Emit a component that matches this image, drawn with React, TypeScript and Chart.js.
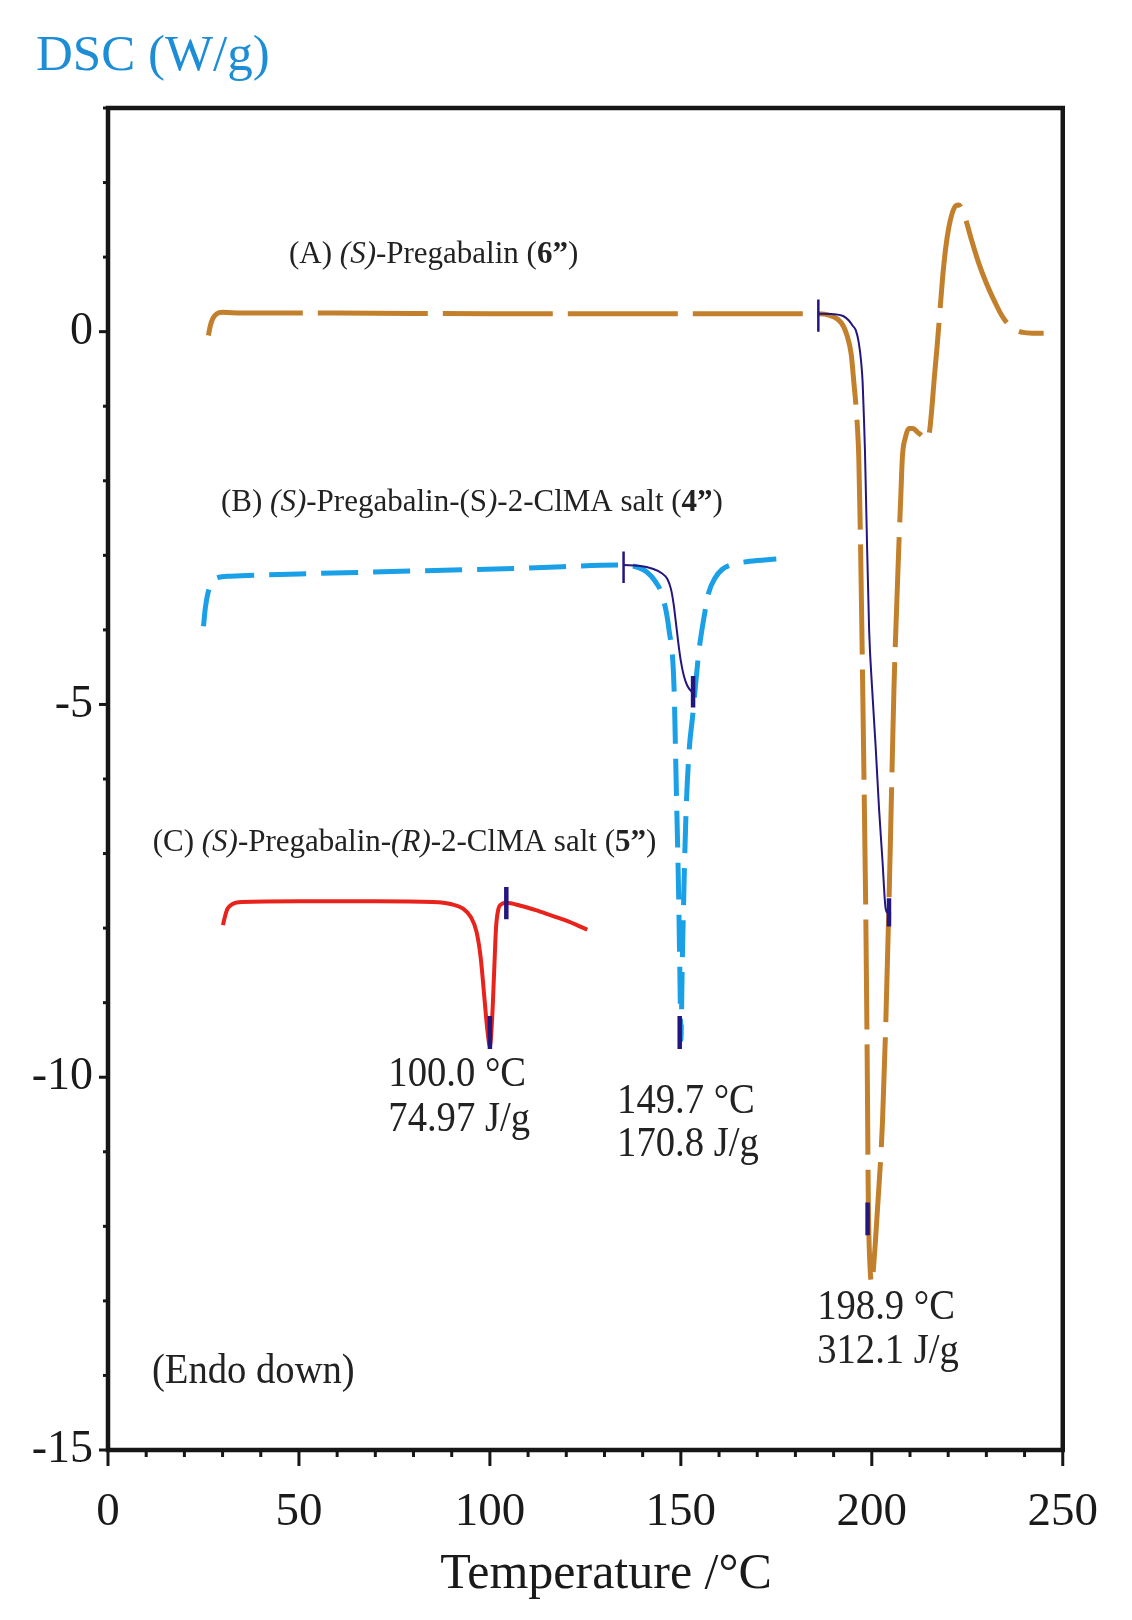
import React, { useEffect, useRef } from 'react';
import { Chart, registerables } from 'chart.js';

Chart.register(...registerables);

// ---------------- data ----------------
// (A) (S)-Pregabalin (6")
const aTemp = [26.3, 26.8, 27.5, 28.5, 30, 35, 60, 100, 150, 180, 186, 189, 191, 192.5, 193.5, 194.6, 195.3, 196, 196.6, 197.0, 197.4, 197.9, 198.4, 198.8, 199.1, 199.5, 200, 200.6, 201.5, 202.8, 203.7, 204.5, 205.2, 205.8, 206.5, 207.1, 207.6, 208, 208.8, 209.7, 210.8, 212, 213.2, 214.2, 215, 215.6, 216.4, 217.1, 217.8, 218.5, 219.3, 220.1, 221, 222, 222.8, 223.6, 224.5, 226, 228, 230, 232.3, 234, 235.7, 237.5, 239.5, 242, 245];
const aDsc = [-0.05, 0.08, 0.18, 0.24, 0.26, 0.25, 0.25, 0.24, 0.24, 0.24, 0.24, 0.22, 0.17, 0.08, -0.05, -0.3, -0.68, -1.1, -1.7, -2.7, -4.0, -5.8, -7.7, -9.8, -11.7, -12.5, -12.76, -12.45, -11.76, -10.6, -9.2, -7.65, -6.1, -4.79, -3.7, -2.85, -2.2, -1.69, -1.42, -1.3, -1.3, -1.35, -1.4, -1.45, -1.38, -1.1, -0.6, -0.2, 0.25, 0.7, 1.1, 1.38, 1.58, 1.69, 1.7, 1.64, 1.52, 1.25, 0.92, 0.65, 0.39, 0.22, 0.1, 0.03, -0.01, -0.02, -0.02];
const aBaseTemp = [186, 190, 192.5, 194, 195, 195.8, 196.6, 197.2, 197.6, 197.9, 198.2, 198.6, 199.3, 200.1, 201, 201.9, 202.8, 203.6, 204.2];
const aBaseDsc = [0.24, 0.235, 0.21, 0.15, 0.08, 0.02, -0.15, -0.4, -0.68, -1.1, -1.58, -2.5, -4.0, -4.8, -5.56, -6.4, -7.1, -7.73, -7.8];

// (B) (S)-Pregabalin-(S)-2-ClMA salt (4")
const bTemp = [25, 25.5, 26.2, 27.3, 28.7, 32, 50, 80, 110, 135, 138, 141, 143.3, 145.2, 146.9, 148.2, 148.8, 149.4, 149.8, 150.0, 150.4, 151.3, 152.2, 153, 154.7, 156, 157.3, 159, 160.8, 163, 168, 175];
const bDsc = [-3.95, -3.7, -3.5, -3.36, -3.3, -3.28, -3.25, -3.21, -3.17, -3.13, -3.15, -3.22, -3.35, -3.55, -4.0, -4.75, -6.1, -7.5, -8.8, -9.5, -8.4, -6.54, -5.6, -5.2, -4.3, -3.85, -3.5, -3.3, -3.19, -3.13, -3.08, -3.05];
const bBaseTemp = [135, 139, 142.6, 145, 146.5, 147.4, 148.1, 148.7, 149.4, 150, 150.8, 151.7, 153];
const bBaseDsc = [-3.13, -3.14, -3.18, -3.24, -3.32, -3.45, -3.65, -3.9, -4.2, -4.42, -4.62, -4.75, -4.84];

// (C) (S)-Pregabalin-(R)-2-ClMA salt (5")
const cTemp = [30.1, 30.6, 31.3, 32.5, 35, 50, 70, 85, 90, 93, 95, 96.5, 97.6, 98.5, 99.3, 100, 100.6, 101.1, 101.6, 102.2, 103, 104.3, 108, 112, 116, 120, 125.5];
const cDsc = [-7.96, -7.85, -7.74, -7.68, -7.65, -7.64, -7.64, -7.65, -7.68, -7.74, -7.85, -8.05, -8.4, -8.9, -9.35, -9.58, -9.2, -8.6, -8.0, -7.75, -7.68, -7.66, -7.7, -7.76, -7.83, -7.9, -8.02];

// analysis markers (onset / peak / end)
const markerTemp = [186, 135, 100.0, 104.3, 149.7, 153.2, 198.9, 204.5];
const markerLow = [0.0, -3.37, -9.62, -7.88, -9.62, -5.04, -12.12, -7.98];
const markerHigh = [0.43, -2.95, -9.18, -7.45, -9.18, -4.62, -11.68, -7.6];

// axis
const xTicksMajor = [0, 50, 100, 150, 200, 250];
const yTicksMajor = [-15, -10, -5, 0];

// texts
const yTitle = 'DSC (W/g)';
const xTitle = 'Temperature /°C';
const labelA: [string, string][] = [['', '(A) '], ['italic', '(S)'], ['', '-Pregabalin ('], ['bold', '6”'], ['', ')']];
const labelB: [string, string][] = [['', '(B) '], ['italic', '(S)'], ['', '-Pregabalin-(S'], ['italic', ')'], ['', '-2-ClMA salt ('], ['bold', '4”'], ['', ')']];
const labelC: [string, string][] = [['', '(C) '], ['italic', '(S)'], ['', '-Pregabalin-'], ['italic', '(R)'], ['', '-2-ClMA salt ('], ['bold', '5”'], ['', ')']];
const peakC = ['100.0 °C', '74.97 J/g'];
const peakB = ['149.7 °C', '170.8 J/g'];
const peakA = ['198.9 °C', '312.1 J/g'];
const endoText = '(Endo down)';

const FONT = '"Liberation Serif", "Times New Roman", Times, serif';
const BROWN = '#c2802c';
const BLUE = '#19a0e6';
const RED = '#e8231c';
const NAVY = '#24167f';

const pts = (xs: number[], ys: number[]) => xs.map((x, i) => ({ x, y: ys[i] }));

function drawRich(ctx: CanvasRenderingContext2D, segs: [string, string][], x: number, y: number, size: number) {
  let cx = x;
  for (const [st, t] of segs) {
    ctx.font = `${st ? st + ' ' : ''}${size}px ${FONT}`;
    ctx.fillText(t, cx, y);
    cx += ctx.measureText(t).width;
  }
}

function drawCondensed(ctx: CanvasRenderingContext2D, t: string, x: number, y: number, size: number, sx: number) {
  ctx.save();
  ctx.translate(x, y);
  ctx.scale(sx, 1);
  ctx.font = `${size}px ${FONT}`;
  ctx.fillText(t, 0, 0);
  ctx.restore();
}

const decorPlugin = {
  id: 'decor',
  afterDraw(chart: any) {
    const { ctx, chartArea: a } = chart;
    const xs = chart.scales.x;
    const ys = chart.scales.y;
    ctx.save();
    ctx.strokeStyle = '#161616';
    ctx.lineCap = 'butt';
    // tick marks
    ctx.lineWidth = 3;
    for (let t = 0; t <= 250; t += 10) {
      const px = xs.getPixelForValue(t);
      const len = xTicksMajor.includes(t) ? 16 : 7;
      ctx.beginPath();
      ctx.moveTo(px, a.bottom);
      ctx.lineTo(px, a.bottom + len);
      ctx.stroke();
    }
    for (let v = -15; v <= 3; v += 1) {
      const py = ys.getPixelForValue(v);
      const len = yTicksMajor.includes(v) ? 9 : 5;
      ctx.beginPath();
      ctx.moveTo(a.left - len, py);
      ctx.lineTo(a.left, py);
      ctx.stroke();
    }
    // frame
    ctx.lineWidth = 4.5;
    ctx.strokeRect(a.left, a.top, a.right - a.left, a.bottom - a.top);

    // titles
    ctx.textBaseline = 'alphabetic';
    ctx.textAlign = 'left';
    ctx.fillStyle = '#1d8dd5';
    ctx.font = `51px ${FONT}`;
    ctx.fillText(yTitle, 36, 70);
    ctx.fillStyle = '#1a1a1a';
    ctx.font = `50px ${FONT}`;
    ctx.textAlign = 'center';
    ctx.fillText(xTitle, 606, 1588);
    ctx.textAlign = 'left';

    const X = (t: number) => xs.getPixelForValue(t);
    const Y = (v: number) => ys.getPixelForValue(v);
    ctx.fillStyle = '#222';
    drawRich(ctx, labelA, X(47.4), Y(0.925), 31);
    drawRich(ctx, labelB, X(29.6), Y(-2.41), 31);
    drawRich(ctx, labelC, X(11.7), Y(-6.97), 31);

    const S = 42, SX = 0.92;
    drawCondensed(ctx, peakC[0], X(73.4), Y(-10.12), S, SX);
    drawCondensed(ctx, peakC[1], X(73.4), Y(-10.72), S, SX);
    drawCondensed(ctx, peakB[0], X(133.3), Y(-10.48), S, SX);
    drawCondensed(ctx, peakB[1], X(133.3), Y(-11.06), S, SX);
    drawCondensed(ctx, peakA[0], X(185.7), Y(-13.24), S, SX);
    drawCondensed(ctx, peakA[1], X(185.7), Y(-13.83), S, SX);
    drawCondensed(ctx, endoText, X(11.5), Y(-14.1), S, SX);
    ctx.restore();
  },
};

export default function App() {
  const ref = useRef<HTMLCanvasElement | null>(null);
  useEffect(() => {
    if (!ref.current) return;
    const markerSets = markerTemp.map((t, i) => ({
      data: [{ x: t, y: markerLow[i] }, { x: t, y: markerHigh[i] }],
      borderColor: NAVY,
      borderWidth: i < 2 ? 2.5 : 4.5,
      pointRadius: 0,
      tension: 0,
      fill: false,
    }));
    const chart = new Chart(ref.current, {
      type: 'line',
      data: {
        datasets: [
          ...markerSets,
          { data: pts(aBaseTemp, aBaseDsc), borderColor: NAVY, borderWidth: 2, pointRadius: 0, cubicInterpolationMode: 'monotone', fill: false },
          { data: pts(bBaseTemp, bBaseDsc), borderColor: NAVY, borderWidth: 2, pointRadius: 0, cubicInterpolationMode: 'monotone', fill: false },
          { data: pts(cTemp, cDsc), borderColor: RED, borderWidth: 4, pointRadius: 0, cubicInterpolationMode: 'monotone', fill: false },
          { data: pts(bTemp, bDsc), borderColor: BLUE, borderWidth: 5, borderDash: [37, 15], pointRadius: 0, cubicInterpolationMode: 'monotone', fill: false },
          { data: pts(aTemp, aDsc), borderColor: BROWN, borderWidth: 5, borderDash: [110, 15], pointRadius: 0, cubicInterpolationMode: 'monotone', fill: false },
        ] as any,
      },
      options: {
        animation: false,
        responsive: false,
        maintainAspectRatio: false,
        devicePixelRatio: 1,
        parsing: false,
        layout: { padding: { top: 108, right: 63, bottom: 0, left: 0 } },
        plugins: { legend: { display: false }, tooltip: { enabled: false }, title: { display: false } },
        scales: {
          x: {
            type: 'linear',
            min: 0,
            max: 250,
            grid: { display: false, drawTicks: false, drawOnChartArea: false },
            border: { display: false },
            ticks: { stepSize: 50, font: { family: FONT, size: 47 }, color: '#1a1a1a', padding: 34, maxRotation: 0, callback: (v: any) => String(v) },
            afterFit: (s: any) => { s.height = 170; },
          },
          y: {
            type: 'linear',
            min: -15,
            max: 3,
            grid: { display: false, drawTicks: false, drawOnChartArea: false },
            border: { display: false },
            ticks: { stepSize: 5, font: { family: FONT, size: 46 }, color: '#1a1a1a', padding: 15, callback: (v: any) => String(v) },
            afterBuildTicks: (s: any) => { s.ticks = s.ticks.filter((t: any) => yTicksMajor.includes(t.value)); },
            afterFit: (s: any) => { s.width = 108; },
          },
        },
      } as any,
      plugins: [decorPlugin],
    });
    return () => chart.destroy();
  }, []);
  return (
    <div style={{ position: 'absolute', left: 0, top: 0, width: 1132, height: 1620, background: '#fff' }}>
      <canvas ref={ref} width={1132} height={1620} style={{ width: 1132, height: 1620, display: 'block' }} />
    </div>
  );
}
